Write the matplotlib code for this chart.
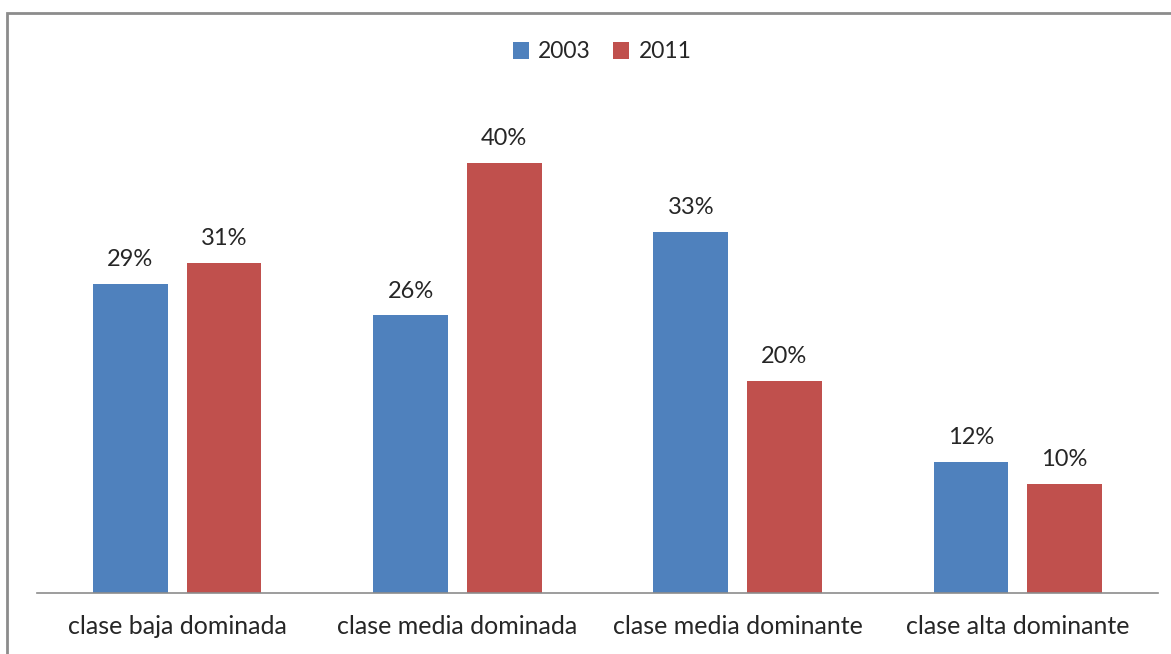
import matplotlib.pyplot as plt
import numpy as np
from matplotlib.patches import Rectangle

# datos
categorias = ['clase baja dominada', 'clase media dominada',
              'clase media dominante', 'clase alta dominante']
anios = ['2003', '2011']
valores_2003 = [0.286, 0.257, 0.334, 0.121]
valores_2011 = [0.306, 0.398, 0.196, 0.101]

azul = '#4F81BD'
rojo = '#C0504D'
plt.rcParams['font.family'] = ['Lato', 'DejaVu Sans']

W, H = 1171, 654
fig = plt.figure(figsize=(W / 100, H / 100), dpi=100)

# marco exterior gris (solo izquierda y arriba visibles)
fig.patches.append(Rectangle((7 / W, -0.1), 1.2, (H - 13) / H + 0.1,
                             transform=fig.transFigure, fill=False,
                             edgecolor='#8c8c8c', linewidth=2))

ax = fig.add_axes([37 / W, 61 / H, (1158 - 37) / W, 486 / H])
x = np.arange(len(categorias))
ancho = 0.267
desp = 0.167
b1 = ax.bar(x - desp, valores_2003, ancho, color=azul, label=anios[0])
b2 = ax.bar(x + desp, valores_2011, ancho, color=rojo, label=anios[1])

for barras in (b1, b2):
    for b in barras:
        ax.annotate(f'{round(b.get_height() * 100):.0f}%',
                    (b.get_x() + b.get_width() / 2, b.get_height()),
                    xytext=(0, 10), textcoords='offset points',
                    ha='center', va='bottom', fontsize=17, color='#262626')

ax.set_xlim(-0.5, 3.5)
ax.set_ylim(0, 0.45)
ax.set_xticks(x)
ax.set_xticklabels(categorias, fontsize=18, color='#262626')
ax.tick_params(axis='x', length=0, pad=16)
ax.set_yticks([])
for s in ('top', 'right', 'left'):
    ax.spines[s].set_visible(False)
ax.spines['bottom'].set_color('#8c8c8c')
ax.spines['bottom'].set_linewidth(1.2)
ax.set_facecolor('none')

fig.legend(handles=[b1, b2], labels=anios, loc='center',
           bbox_to_anchor=(602 / W, 1 - 52 / H), ncol=2, frameon=False,
           fontsize=16.5, handlelength=0.7, handleheight=0.7,
           handletextpad=0.4, columnspacing=1.0, labelcolor='#262626')

fig.savefig('out.png', dpi=100)
